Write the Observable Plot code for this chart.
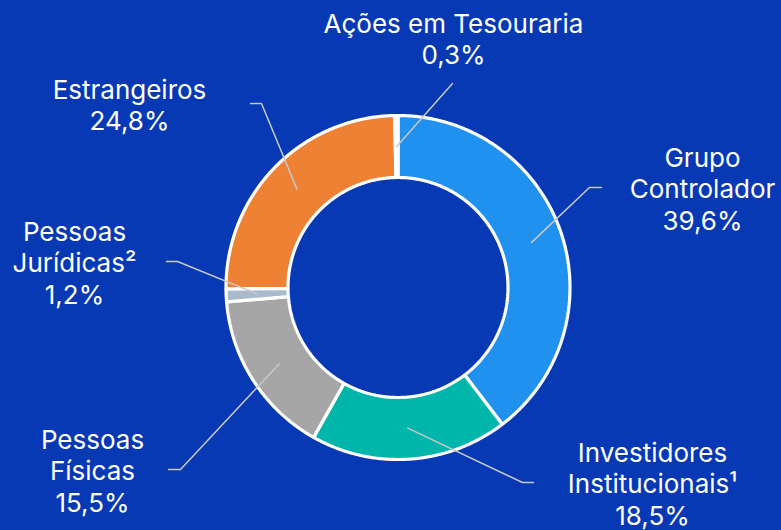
<!DOCTYPE html>
<html><head><meta charset="utf-8">
<script src="https://cdn.jsdelivr.net/npm/d3@7"></script>
<script src="https://cdn.jsdelivr.net/npm/@observablehq/plot@0.6"></script>
<style>html,body{margin:0;padding:0;background:#0739b5;}</style>
</head><body><div id="chart"></div>
<script>
// ---- data ----
const categories = ["Grupo Controlador", "Investidores Institucionais¹", "Pessoas Físicas", "Pessoas Jurídicas²", "Estrangeiros", "Ações em Tesouraria"];
const labelNames = ["Grupo\nControlador", "Investidores\nInstitucionais¹", "Pessoas\nFísicas", "Pessoas\nJurídicas²", "Estrangeiros", "Ações em Tesouraria"];
const shares = [39.6, 18.5, 15.5, 1.2, 24.8, 0.3];
const shareLabels = ["39,6%", "18,5%", "15,5%", "1,2%", "24,8%", "0,3%"];
const colors = ["#2191f0", "#00b5aa", "#a6a6a6", "#a8bacb", "#ee8134", "#ffffff"];

// ---- layout (chart units, origin at donut centre, y pointing down) ----
const R_OUT = 172, R_IN = 110, R_MID = 141;
const labelPos = [[304.5, -99], [254.5, 196], [-305.5, 183], [-323.5, -25], [-268.5, -183], [55.5, -249]];
const elbowPos = [[191.5, -100], [124.5, 195], [-217.5, 182], [-220.5, -26], [-136.5, -184], [54.5, -204]];
const endPos   = [[203.5, -100], [135.5, 195], [-229.5, 182], [-231.5, -26], [-147.5, -184], [54.5, -204]];

const arcs = d3.pie().sort(null).value(d => d)(shares);
const pt = (r, a) => [r * Math.sin(a), -r * Math.cos(a)];

const slicePts = [];
arcs.forEach((a, i) => {
  const n = Math.max(2, Math.ceil((a.endAngle - a.startAngle) / (Math.PI / 360)));
  for (let k = 0; k <= n; k++) {
    const t = a.startAngle + (a.endAngle - a.startAngle) * k / n;
    const [x, y] = pt(R_OUT, t);
    slicePts.push({cat: categories[i], color: colors[i], x, y});
  }
  for (let k = n; k >= 0; k--) {
    const t = a.startAngle + (a.endAngle - a.startAngle) * k / n;
    const [x, y] = pt(R_IN, t);
    slicePts.push({cat: categories[i], color: colors[i], x, y});
  }
});

const leaderPts = [];
arcs.forEach((a, i) => {
  const [x0, y0] = pt(R_MID, (a.startAngle + a.endAngle) / 2);
  leaderPts.push({cat: categories[i], x: x0, y: y0});
  leaderPts.push({cat: categories[i], x: elbowPos[i][0], y: elbowPos[i][1]});
  leaderPts.push({cat: categories[i], x: endPos[i][0], y: endPos[i][1]});
});

const labels = categories.map((c, i) => ({
  text: labelNames[i] + "\n" + shareLabels[i], x: labelPos[i][0], y: labelPos[i][1]
}));

const chart = Plot.plot({
  width: 781, height: 530, margin: 0,
  x: {domain: [-397.5, 383.5], axis: null},
  y: {domain: [-287, 243], range: [0, 530], axis: null},
  color: {type: "identity"},
  style: {background: "#0739b5", fontFamily: "Inter, sans-serif"},
  marks: [
    Plot.line(slicePts, {x: "x", y: "y", z: "cat", fill: "color", stroke: "#ffffff", strokeWidth: 3.2, curve: "linear-closed", strokeLinejoin: "miter"}),
    Plot.line(leaderPts, {x: "x", y: "y", z: "cat", stroke: "#c8c8c8", strokeWidth: 1.5}),
    Plot.text(labels, {x: "x", y: "y", text: "text", fill: "#ffffff", fontSize: 26, lineHeight: 1.2, textAnchor: "middle", lineAnchor: "middle"})
  ]
});
document.getElementById("chart").appendChild(chart);
</script>
</body></html>
